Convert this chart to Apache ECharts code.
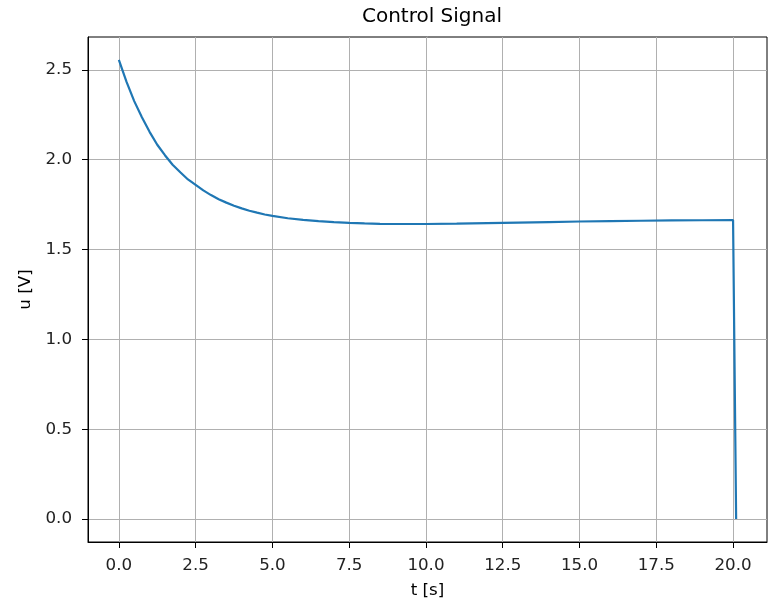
<!DOCTYPE html>
<html>
<head>
<meta charset="utf-8">
<script src="https://cdn.jsdelivr.net/npm/echarts@6/dist/echarts.min.js"></script>
<style>html,body{margin:0;padding:0;background:#fff}#c{width:774px;height:604px}</style>
</head>
<body>
<div id="c"></div>
<script>
const titleText = "Control Signal";
const xName = "t [s]";
const yName = "u [V]";
const tValues = [0, 0.25, 0.5, 0.75, 1.0, 1.25, 1.5, 1.75, 2.0, 2.25, 2.5, 2.75, 3.0, 3.25, 3.5, 3.75, 4.0, 4.25, 4.5, 4.75, 5.0, 5.5, 6.0, 6.5, 7.0, 7.5, 8.0, 8.5, 9.0, 9.5, 10, 11, 12, 13, 14, 15, 16, 17, 18, 19, 20, 20.1];
const uValues = [2.555, 2.433, 2.326, 2.236, 2.155, 2.083, 2.025, 1.972, 1.930, 1.890, 1.860, 1.829, 1.803, 1.780, 1.761, 1.744, 1.729, 1.716, 1.705, 1.695, 1.687, 1.674, 1.665, 1.658, 1.652, 1.648, 1.645, 1.643, 1.642, 1.642, 1.642, 1.644, 1.647, 1.650, 1.653, 1.656, 1.658, 1.660, 1.662, 1.663, 1.664, 0];
const xTicks = [0, 2.5, 5.0, 7.5, 10.0, 12.5, 15.0, 17.5, 20.0];
const yTicks = [0, 0.5, 1.0, 1.5, 2.0, 2.5];

const seriesData = tValues.map((t, i) => [t, uValues[i]]);
const font = "DejaVu Sans";
const chart = echarts.init(document.getElementById('c'), null, {renderer: 'canvas'});
chart.setOption({
  animation: false,
  backgroundColor: '#ffffff',
  title: {
    text: titleText, left: 427, top: 2, textAlign: 'center',
    textStyle: {fontFamily: font, fontSize: 20, fontWeight: 'normal', color: '#000'}
  },
  grid: {left: 88, top: 37, right: 7, bottom: 62, show: true, borderColor: '#000', borderWidth: 1, backgroundColor: 'transparent'},
  xAxis: {
    type: 'value', min: -1.005, max: 21.105,
    name: xName, nameLocation: 'middle', nameGap: 40,
    nameTextStyle: {fontFamily: font, fontSize: 16.7, color: '#000'},
    axisLine: {show: true, onZero: false, lineStyle: {color: '#000', width: 1}},
    axisTick: {show: true, length: 6, inside: false, customValues: xTicks, lineStyle: {color: '#000'}},
    axisLabel: {customValues: xTicks, margin: 15, fontFamily: font, fontSize: 16.7, color: '#222', formatter: v => Number(v).toFixed(1)},
    splitLine: {show: true, lineStyle: {color: '#b0b0b0', width: 1}}
  },
  yAxis: {
    type: 'value', min: -0.1278, max: 2.6828,
    name: yName, nameLocation: 'middle', nameGap: 53,
    nameTextStyle: {fontFamily: font, fontSize: 16.7, color: '#000'},
    axisLine: {show: true, onZero: false, lineStyle: {color: '#000', width: 1}},
    axisTick: {show: true, length: 6, inside: false, customValues: yTicks, lineStyle: {color: '#000'}},
    axisLabel: {customValues: yTicks, margin: 16, fontFamily: font, fontSize: 16.7, color: '#222', formatter: v => Number(v).toFixed(1)},
    splitLine: {show: true, lineStyle: {color: '#b0b0b0', width: 1}}
  },
  series: [{
    type: 'line', data: seriesData, showSymbol: false, smooth: false,
    lineStyle: {color: '#1f77b4', width: 2.2},
    itemStyle: {color: '#1f77b4'}
  }]
});
</script>
</body>
</html>
